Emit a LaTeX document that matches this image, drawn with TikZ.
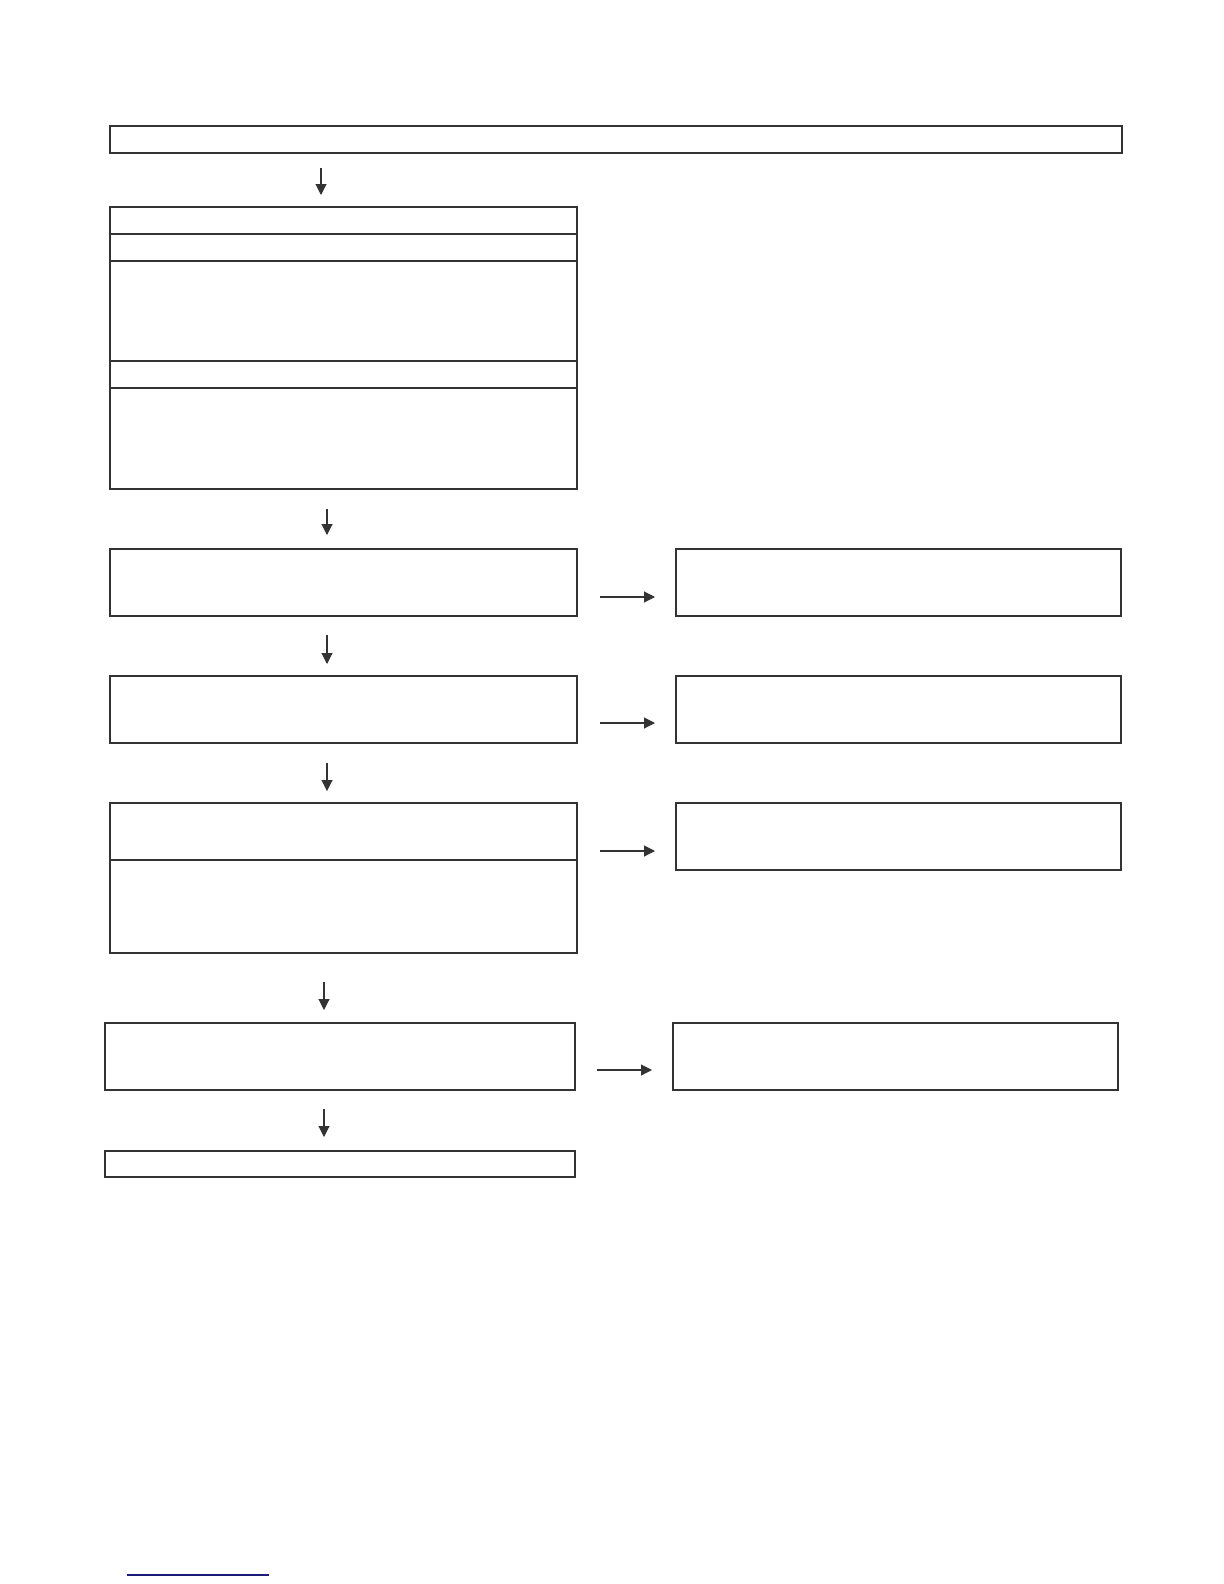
\documentclass[tikz,border=0pt]{standalone}
\usepackage{xcolor}
\usetikzlibrary{arrows.meta}
\definecolor{linegray}{HTML}{333333}
\definecolor{linkblue}{HTML}{1C1C7A}

\begin{document}
\begin{tikzpicture}[x=0.5pt,y=-0.5pt]
	\tikzstyle{box} = [draw=linegray, line width=0.6pt, inner sep=0pt, outer sep=0pt]
	\tikzstyle{wide} = [box, minimum width=233.5pt]
	\tikzstyle{side} = [box, minimum width=222.5pt]
	\tikzset{edge/.style = {draw=linegray, line width=0.55pt, -{Triangle[length=5.5pt,width=5.5pt]}}}
	\useasboundingbox (0,0) rectangle (1224,1584);
	
	\node[box, minimum width=506pt, minimum height=13.5pt](start) at (616,139.5) {};
	
	\node[wide, minimum height=13.5pt](check1) at (343.5,220.5) {};
	\node[wide, minimum height=13.5pt](check2) at (343.5,247.5) {};
	\node[wide, minimum height=50pt](check3) at (343.5,311) {};
	\node[wide, minimum height=13.5pt](check4) at (343.5,374.5) {};
	\node[wide, minimum height=50.5pt](check5) at (343.5,438.5) {};
	\draw[linegray, line width=1pt](check5.south west) -- (check5.south east);
	
	\node[wide, minimum height=33.5pt](step1) at (343.5,582.5) {};
	\node[side, minimum height=33.5pt](fix1) at (898.5,582.5) {};
	\draw[linegray, line width=1pt](step1.north west) -- (step1.north east);
	\draw[linegray, line width=1pt](fix1.north west) -- (fix1.north east);
	
	\node[wide, minimum height=33.5pt](step2) at (343.5,709.5) {};
	\node[side, minimum height=33.5pt](fix2) at (898.5,709.5) {};
	
	\node[wide, minimum height=28.5pt](step3) at (343.5,831.5) {};
	\node[wide, minimum height=46.5pt](step3b) at (343.5,906.5) {};
	\node[side, minimum height=33.5pt](fix3) at (898.5,836.5) {};
	
	\node[box, minimum width=235pt, minimum height=33.5pt](step4) at (340,1056.5) {};
	\node[side, minimum height=33.5pt](fix4) at (895.5,1056.5) {};
	
	\node[box, minimum width=235pt, minimum height=13pt](done) at (340,1164) {};
	
	% arrow ends
	\coordinate (a1) at (321,168); \coordinate (b1) at (321,195);
	\coordinate (a2) at (327,509); \coordinate (b2) at (327,535);
	\coordinate (a3) at (327,635); \coordinate (b3) at (327,664);
	\coordinate (a4) at (327,763); \coordinate (b4) at (327,791);
	\coordinate (a5) at (324,982); \coordinate (b5) at (324,1010);
	\coordinate (a6) at (324,1109); \coordinate (b6) at (324,1137);
	\draw[edge](a1) to (b1);
	\draw[edge](a2) to (b2);
	\draw[edge](a3) to (b3);
	\draw[edge](a4) to (b4);
	\draw[edge](a5) to (b5);
	\draw[edge](a6) to (b6);
	
	\coordinate (h1) at (600,597); \coordinate (k1) at (655,597);
	\coordinate (h2) at (600,723); \coordinate (k2) at (655,723);
	\coordinate (h3) at (600,851); \coordinate (k3) at (655,851);
	\coordinate (h4) at (597,1070); \coordinate (k4) at (652,1070);
	\draw[edge](h1) to (k1);
	\draw[edge](h2) to (k2);
	\draw[edge](h3) to (k3);
	\draw[edge](h4) to (k4);
	
	\draw[linkblue, line width=0.6pt](127,1575) -- (269,1575);
	
\end{tikzpicture}
\end{document}
